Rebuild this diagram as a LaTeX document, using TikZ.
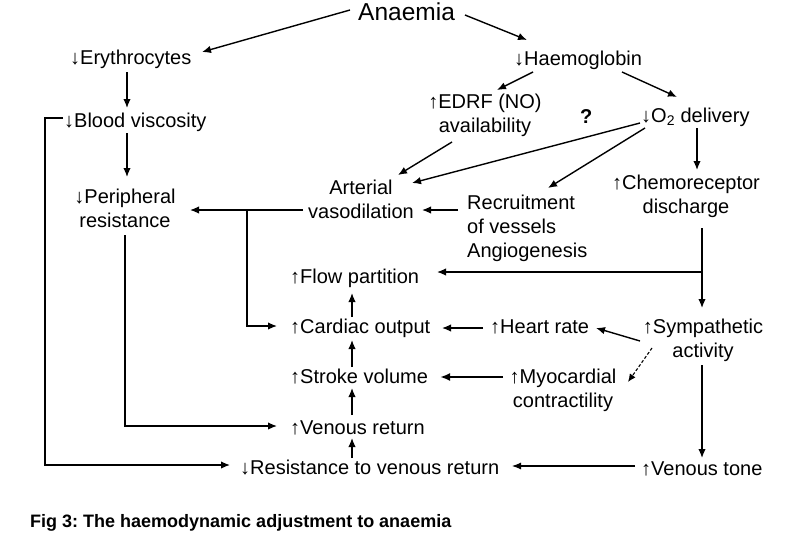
\documentclass[tikz,border=0pt]{standalone}
\usepackage{fontspec}
\setmainfont{Liberation Sans}
\usetikzlibrary{arrows.meta}
\newcommand{\uarr}{{\bfseries ↑}}
\newcommand{\darr}{{\bfseries ↓}}
\frenchspacing
\begin{document}
\begin{tikzpicture}[x=1pt,y=-1pt,
  txt/.style={inner sep=0pt,font=\fontsize{20}{24}\selectfont},
  ctxt/.style={txt,align=center,anchor=base},
  lw/.style={txt,anchor=base west},
  con/.style={line width=1.4pt,-{Latex[length=9pt,width=7.5pt]}},
  thickcon/.style={line width=2.6pt,-{Latex[length=10pt,width=8pt]}},
  thincon/.style={line width=1.1pt,-{Latex[length=9pt,width=7pt]}},
  dashcon/.style={line width=1.1pt,dash pattern=on 3pt off 2pt,-{Latex[length=8pt,width=7pt]}}]
\useasboundingbox[fill=white] (0,0) rectangle (790,538);
% nodes (multi-line nodes are placed by the baseline of their last line)
\node[lw,font=\fontsize{24.5}{30}\selectfont] (ana) at (358,20) {Anaemia};
\node[lw] (ery) at (70,64) {\darr Erythrocytes};
\node[lw] (hb) at (514,65) {\darr Haemoglobin};
\node[lw] (bv) at (64,127) {\darr Blood viscosity};
\node[ctxt] (edrf) at (485,132) {\uarr EDRF (NO)\\availability};
\node[lw,font=\fontsize{20}{24}\selectfont\bfseries] (q) at (580,123) {?};
\node[lw] (o2) at (641,122) {\darr O\textsubscript{2} delivery};
\node[ctxt] (pr) at (125,227) {\darr Peripheral\\resistance};
\node[ctxt] (av) at (361,218) {Arterial\\vasodilation};
\node[lw,align=left] (rec) at (467,257) {Recruitment\\of vessels\\Angiogenesis};
\node[ctxt] (chem) at (686,213) {\uarr Chemoreceptor\\discharge};
\node[lw] (fp) at (290,283) {\uarr Flow partition};
\node[lw] (co) at (290,333) {\uarr Cardiac output};
\node[lw] (hr) at (490,333) {\uarr Heart rate};
\node[ctxt] (sym) at (703,357) {\uarr Sympathetic\\activity};
\node[lw] (sv) at (290,383) {\uarr Stroke volume};
\node[ctxt] (myo) at (563,407) {\uarr Myocardial\\contractility};
\node[lw] (vr) at (290,434) {\uarr Venous return};
\node[lw] (rvr) at (240,474) {\darr Resistance to venous return};
\node[lw] (vt) at (641,475) {\uarr Venous tone};
\node[lw,font=\fontsize{18}{22}\selectfont\bfseries] (cap) at (30,527) {Fig 3: The haemodynamic adjustment to anaemia};
% connectors
\draw[con] ([shift={(-8,-10)}]ana.base west) -- ([shift={(132,-12)}]ery.base west);
\draw[con] ([shift={(107,-5)}]ana.base west) -- ([shift={(13,-25)}]hb.base west);
\draw[con] ([shift={(57,8)}]ery.base west) -- ([shift={(63,-19)}]bv.base west);
\draw[con] ([shift={(63,6)}]bv.base west) -- ([shift={(2,-50)}]pr.base);
\draw[con] ([shift={(-1,-9)}]bv.base west) -- ++(-18,0) |- ([shift={(-10,-9)}]rvr.base west);
\draw[con] ([shift={(0,8)}]pr.base) |- ([shift={(-13,-8)}]vr.base west);
\draw[con] ([shift={(-58,-8)}]av.base) -- ([shift={(65,-17)}]pr.base);
\coordinate (j) at ([shift={(-114,-8)}]av.base);
\draw[con] (j) |- ([shift={(-13,-7)}]co.base west);
\draw[con] ([shift={(19,7)}]hb.base west) -- ([shift={(12,-42)}]edrf.base);
\draw[con] ([shift={(108,7)}]hb.base west) -- ([shift={(36,-25)}]o2.base west);
\draw[con] ([shift={(-33,10)}]edrf.base) -- ([shift={(37,-43)}]av.base);
\draw[con] ([shift={(-1,1)}]o2.base west) -- ([shift={(51,-35)}]av.base);
\draw[con] ([shift={(4,6)}]o2.base west) -- ([shift={(81,-69)}]rec.base west);
\draw[con] ([shift={(56,6)}]o2.base west) -- ([shift={(11,-43)}]chem.base);
\draw[con] ([shift={(-9,-47)}]rec.base west) -- ([shift={(61,-8)}]av.base);
\draw[con] ([shift={(16,15)}]chem.base) -- ([shift={(-1,-49)}]sym.base);
\coordinate (k) at ([shift={(16,59)}]chem.base);
\draw[con] (k) -- ([shift={(147,-11)}]fp.base west);
\draw[con] ([shift={(62,-16)}]co.base west) -- ([shift={(62,10)}]fp.base west);
\draw[con] ([shift={(62,-16)}]sv.base west) -- ([shift={(62,7)}]co.base west);
\draw[con] ([shift={(62,-19)}]vr.base west) -- ([shift={(62,5)}]sv.base west);
\draw[con] ([shift={(112,-16)}]rvr.base west) -- ([shift={(62,4)}]vr.base west);
\draw[con] ([shift={(-7,-5)}]hr.base west) -- ([shift={(152,-5)}]co.base west);
\draw[con] ([shift={(-63,-16)}]sym.base) -- ([shift={(106,-5)}]hr.base west);
\draw[dashcon] ([shift={(-51,-9)}]sym.base) -- ([shift={(65,-25)}]myo.base);
\draw[thickcon] ([shift={(-60,-30)}]myo.base) -- ([shift={(150,-6)}]sv.base west);
\draw[con] ([shift={(-1,8)}]sym.base) -- ([shift={(61,-17)}]vt.base west);
\draw[thincon] ([shift={(-6,-9)}]vt.base west) -- ([shift={(272,-8)}]rvr.base west);
\end{tikzpicture}
\end{document}
